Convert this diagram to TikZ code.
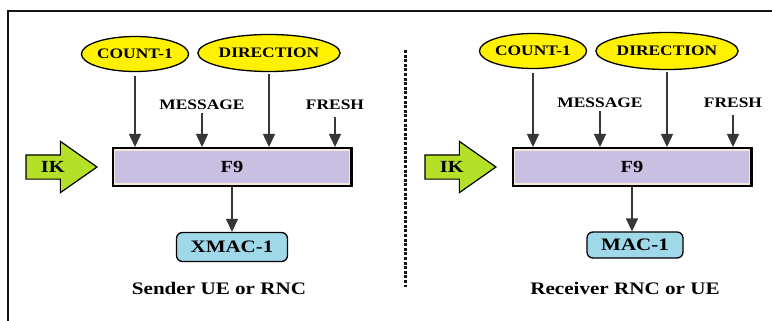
\documentclass[tikz,border=0pt]{standalone}
\usepackage{fontspec}
\setmainfont{Liberation Serif}
\usetikzlibrary{
  shapes.geometric,
  shapes.arrows,
  arrows.meta,
  positioning
}
\definecolor{inputcolor}{RGB}{255, 241, 0}
\definecolor{keycolor}{RGB}{180, 225, 40}
\definecolor{funccolor}{RGB}{200, 191, 226}
\definecolor{funcrim}{RGB}{246, 232, 214}
\definecolor{outputcolor}{RGB}{158, 216, 233}
\definecolor{arrowcolor}{RGB}{55, 55, 55}
\definecolor{framecolor}{RGB}{20, 20, 20}
\newcommand{\widetext}[1]{\scalebox{1.2}[1]{#1}}
\tikzset{
labeltext/.style={
  font=\bfseries\fontsize{14.5}{16}\selectfont,
  text=black,
  inner sep=1pt
},
inputellipse/.style={
  labeltext,
  ellipse,
  draw=black,
  line width=1.3pt,
  fill=inputcolor,
  inner sep=0pt
},
funcblock/.style={
  labeltext,
  font=\bfseries\fontsize{17}{19}\selectfont,
  preaction={draw=black, line width=6pt},
  draw=funcrim,
  line width=1.2pt,
  fill=funccolor,
  minimum width=235pt,
  minimum height=34pt,
  outer sep=3pt
},
ikarrow/.style={
  single arrow,
  draw=black,
  line width=1.2pt,
  fill=keycolor,
  font=\bfseries\fontsize{17}{19}\selectfont,
  text height=11pt,
  text depth=0pt,
  inner ysep=6pt,
  single arrow head extend=13.5pt,
  single arrow tip angle=70,
  minimum height=71pt
},
outputblock/.style={
  font=\bfseries\fontsize{17.5}{19}\selectfont,
  draw=black,
  line width=1.3pt,
  rounded corners=6pt,
  fill=outputcolor,
  inner sep=0pt
},
captiontext/.style={
  font=\bfseries\fontsize{17.6}{20}\selectfont,
  inner sep=1pt
},
divider/.style={
  draw=framecolor,
  line width=3pt,
  dash pattern=on 3pt off 1.6pt
},
arrow/.style={
  -{Triangle[length=13pt,width=12pt]},
  line width=1.3pt,
  draw=arrowcolor
}
}

\begin{document}
\begin{tikzpicture}[x=1pt, y=-1pt]
  \useasboundingbox (0,0) rectangle (772,321);
  % Outer frame
  \draw[framecolor, line width=1.8pt] (8,321) -- (8,11) -- (772,11);

  % Sender side
  \node[inputellipse, minimum width=106pt, minimum height=35pt] (cntL) at (135,54) {\widetext{COUNT-1}};
  \node[inputellipse, minimum width=135pt, minimum height=37pt] (dirL) at (269,53) {\widetext{DIRECTION}};
  \node[labeltext] (msgL) at (202,105) {\widetext{MESSAGE}};
  \node[labeltext] (frL) at (335,105) {\widetext{FRESH}};
  \node[funcblock] (f9L) at (232,167) {\widetext{F9}};
  \node[ikarrow, anchor=tip] (ikL) at (98,167) {\widetext{IK}};
  \node[outputblock, minimum width=111pt, minimum height=29pt] (xmac) at (232,247) {\widetext{XMAC-1}};
  \node[captiontext] (sender) at (219,288) {\widetext{Sender UE or RNC}};

  \draw[arrow, shorten <=4pt] (cntL.south) -- (cntL.south |- f9L.north);
  \draw[arrow, shorten <=2pt] (msgL.south) -- (msgL.south |- f9L.north);
  \draw[arrow, shorten <=2pt] (dirL.south) -- (dirL.south |- f9L.north);
  \draw[arrow, shorten <=6pt] (frL.south) -- (frL.south |- f9L.north);
  \draw[arrow] (f9L.south) -- (xmac.north);

  % Divider
  \draw[divider] (405,50) -- (405,287);

  % Receiver side
  \node[inputellipse, minimum width=107pt, minimum height=35pt] (cntR) at (533,51) {\widetext{COUNT-1}};
  \node[inputellipse, minimum width=137pt, minimum height=37pt] (dirR) at (667,51) {\widetext{DIRECTION}};
  \node[labeltext] (msgR) at (600,103) {\widetext{MESSAGE}};
  \node[labeltext] (frR) at (733,103) {\widetext{FRESH}};
  \node[funcblock] (f9R) at (632,167) {\widetext{F9}};
  \node[ikarrow, anchor=tip] (ikR) at (497,167) {\widetext{IK}};
  \node[outputblock, minimum width=96pt, minimum height=26pt] (mac) at (635,245) {\widetext{MAC-1}};
  \node[captiontext] (receiver) at (625,288) {\widetext{Receiver RNC or UE}};

  \draw[arrow, shorten <=4pt] (cntR.south) -- (cntR.south |- f9R.north);
  \draw[arrow, shorten <=2pt] (msgR.south) -- (msgR.south |- f9R.north);
  \draw[arrow, shorten <=2pt] (dirR.south) -- (dirR.south |- f9R.north);
  \draw[arrow, shorten <=6pt] (frR.south) -- (frR.south |- f9R.north);
  \draw[arrow] (f9R.south) -- (f9R.south |- mac.north);
\end{tikzpicture}
\end{document}
